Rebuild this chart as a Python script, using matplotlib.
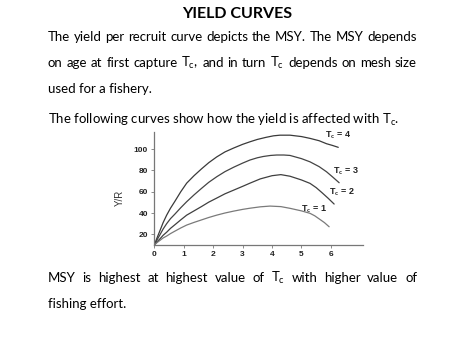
import matplotlib
matplotlib.use("Agg")
import matplotlib.pyplot as plt

# text on the slide
title = "YIELD CURVES"
para_top = [
    ("The yield per recruit curve depicts the MSY. The MSY depends", True),
    (r"on age at first capture T$_\mathrm{c}$, and in turn T$_\mathrm{c}$ depends on mesh size", True),
    ("used for a fishery.", False),
]
para_mid = [(r"The following curves show how the yield is affected with T$_\mathrm{c}$.", False)]
para_bot = [
    (r"MSY is highest at highest value of T$_\mathrm{c}$ with higher value of", True),
    ("fishing effort.", False),
]

# yield per recruit curves
tc_labels = [r"T$_\mathbf{c}$ = 4", r"T$_\mathbf{c}$ = 3", r"T$_\mathbf{c}$ = 2", r"T$_\mathbf{c}$ = 1"]
x_tc4 = [0, 0.1, 0.2, 0.3, 0.42, 0.55, 0.7, 0.9, 1.1, 1.35, 1.6, 1.85, 2.12, 2.4, 2.7, 3.0,
         3.25, 3.5, 3.8, 4.05, 4.27, 4.61, 5.0, 5.29, 5.6, 5.85, 6.05, 6.25]
y_tc4 = [10, 17.2, 24, 31, 38, 44.5, 51, 60, 68, 75, 81.3, 87.2, 92.6, 97.3, 101, 104.4,
         106.8, 109, 111, 112.4, 113, 113, 111.7, 110, 107.8, 105, 103.4, 101.6]
x_tc3 = [0, 0.1, 0.2, 0.3, 0.42, 0.55, 0.7, 0.9, 1.1, 1.35, 1.6, 1.85, 2.12, 2.4, 2.7, 3.0,
         3.25, 3.5, 3.7, 3.95, 4.16, 4.4, 4.61, 5.0, 5.29, 5.6, 5.85, 6.05, 6.28]
y_tc3 = [10, 15.2, 20, 25, 30, 34.7, 39, 45, 50.6, 57, 63, 68.8, 74, 78.8, 83, 86.8,
         89.7, 91.8, 93, 94, 94.4, 94.4, 94, 91, 88, 83.5, 78.7, 74, 68.4]
x_tc2 = [0, 0.1, 0.2, 0.3, 0.42, 0.55, 0.7, 0.9, 1.1, 1.35, 1.6, 1.85, 2.12, 2.4, 2.7, 3.0,
         3.25, 3.6, 4.0, 4.3, 4.61, 5.0, 5.29, 5.5, 5.7, 5.9, 6.11]
y_tc2 = [10, 13.1, 16, 19.1, 22, 25.6, 29, 33.6, 38, 42, 46, 50.2, 54, 58, 61.5, 65,
         68, 72, 75, 76, 74.5, 71, 67.8, 63.8, 59, 54, 48.4]
x_tc1 = [0, 0.1, 0.2, 0.3, 0.42, 0.55, 0.7, 0.9, 1.1, 1.35, 1.6, 1.85, 2.12, 2.4, 2.7, 3.0,
         3.25, 3.6, 3.93, 4.3, 4.61, 5.0, 5.29, 5.45, 5.6, 5.78, 5.94]
y_tc1 = [10, 12.4, 14.5, 16.6, 18.4, 20.7, 23, 26, 28.7, 31.2, 33.5, 35.8, 38, 40, 41.8, 43.4,
         44.5, 45.8, 46.5, 46, 44.4, 42, 39.7, 37.4, 34.5, 31, 27.1]
label_pos = [(5.8, 113), (6.07, 79), (5.93, 59.5), (4.97, 43.7)]
x_ticks = [0, 1, 2, 3, 4, 5, 6]
y_ticks = [20, 40, 60, 80, 100]

plt.rcParams['font.family'] = ['Lato', 'DejaVu Sans']
plt.rcParams['mathtext.fontset'] = 'custom'
plt.rcParams['mathtext.rm'] = 'Lato'
plt.rcParams['mathtext.it'] = 'Lato:italic'
plt.rcParams['mathtext.bf'] = 'Lato:bold'

W, H = 474, 355
fig = plt.figure(figsize=(W / 100, H / 100), dpi=100)
fig.patch.set_facecolor('white')
renderer = fig.canvas.get_renderer()

FS = 9.5
LEFT, RIGHT = 48, 417


def put_line(text, baseline, justify):
    # place one line of body text, spread words to fill the line if justified
    yf = 1 - baseline / H
    if not justify:
        fig.text(LEFT / W, yf, text, fontsize=FS, va='baseline', ha='left')
        return
    words = text.split(' ')
    objs = [fig.text(0, yf, w, fontsize=FS, va='baseline', ha='left') for w in words]
    widths = [o.get_window_extent(renderer).width for o in objs]
    gap = (RIGHT - LEFT - sum(widths)) / (len(words) - 1)
    x = LEFT
    for o, w in zip(objs, widths):
        o.set_x(x / W)
        x += w + gap


fig.text(0.5, 1 - 18.3 / H, title, fontsize=11.5, fontweight='bold', ha='center', va='baseline')
for (t, j), b in zip(para_top, [41, 67, 93]):
    put_line(t, b, j)
for (t, j), b in zip(para_mid, [124]):
    put_line(t, b, j)
for (t, j), b in zip(para_bot, [282.3, 307.7]):
    put_line(t, b, j)

# chart
ax = fig.add_axes([154.3 / W, 110 / H, 208.4 / W, 112.7 / H])
ax.set_xlim(0, 7.08)
ax.set_ylim(10, 115.7)
curves = [(x_tc4, y_tc4, '#3a3a3a'), (x_tc3, y_tc3, '#444444'),
          (x_tc2, y_tc2, '#3f3f3f'), (x_tc1, y_tc1, '#7a7a7a')]
for (xs, ys, c) in curves:
    ax.plot(xs, ys, color=c, lw=0.9, solid_capstyle='round')
for lab, (lx, ly) in zip(tc_labels, label_pos):
    ax.text(lx, ly, lab, fontsize=6.5, fontweight='bold', family=['Liberation Sans'],
            va='center', ha='left', color='#222222')

for s in ['top', 'right']:
    ax.spines[s].set_visible(False)
for s in ['left', 'bottom']:
    ax.spines[s].set_color('#777777')
    ax.spines[s].set_linewidth(0.9)
ax.set_xticks(x_ticks)
ax.set_yticks(y_ticks)
ax.tick_params(axis='both', length=2, width=0.6, color='#777777', labelsize=6, pad=2.5)
for lbl in ax.get_xticklabels() + ax.get_yticklabels():
    lbl.set_fontweight('bold')
    lbl.set_family('Liberation Sans')
    lbl.set_color('#222222')
ax.set_ylabel('Y/R', fontsize=7, family='Liberation Sans', color='#333333')
ax.yaxis.set_label_coords(-0.14, 0.417)

fig.savefig('out.png', dpi=100, facecolor='white')
